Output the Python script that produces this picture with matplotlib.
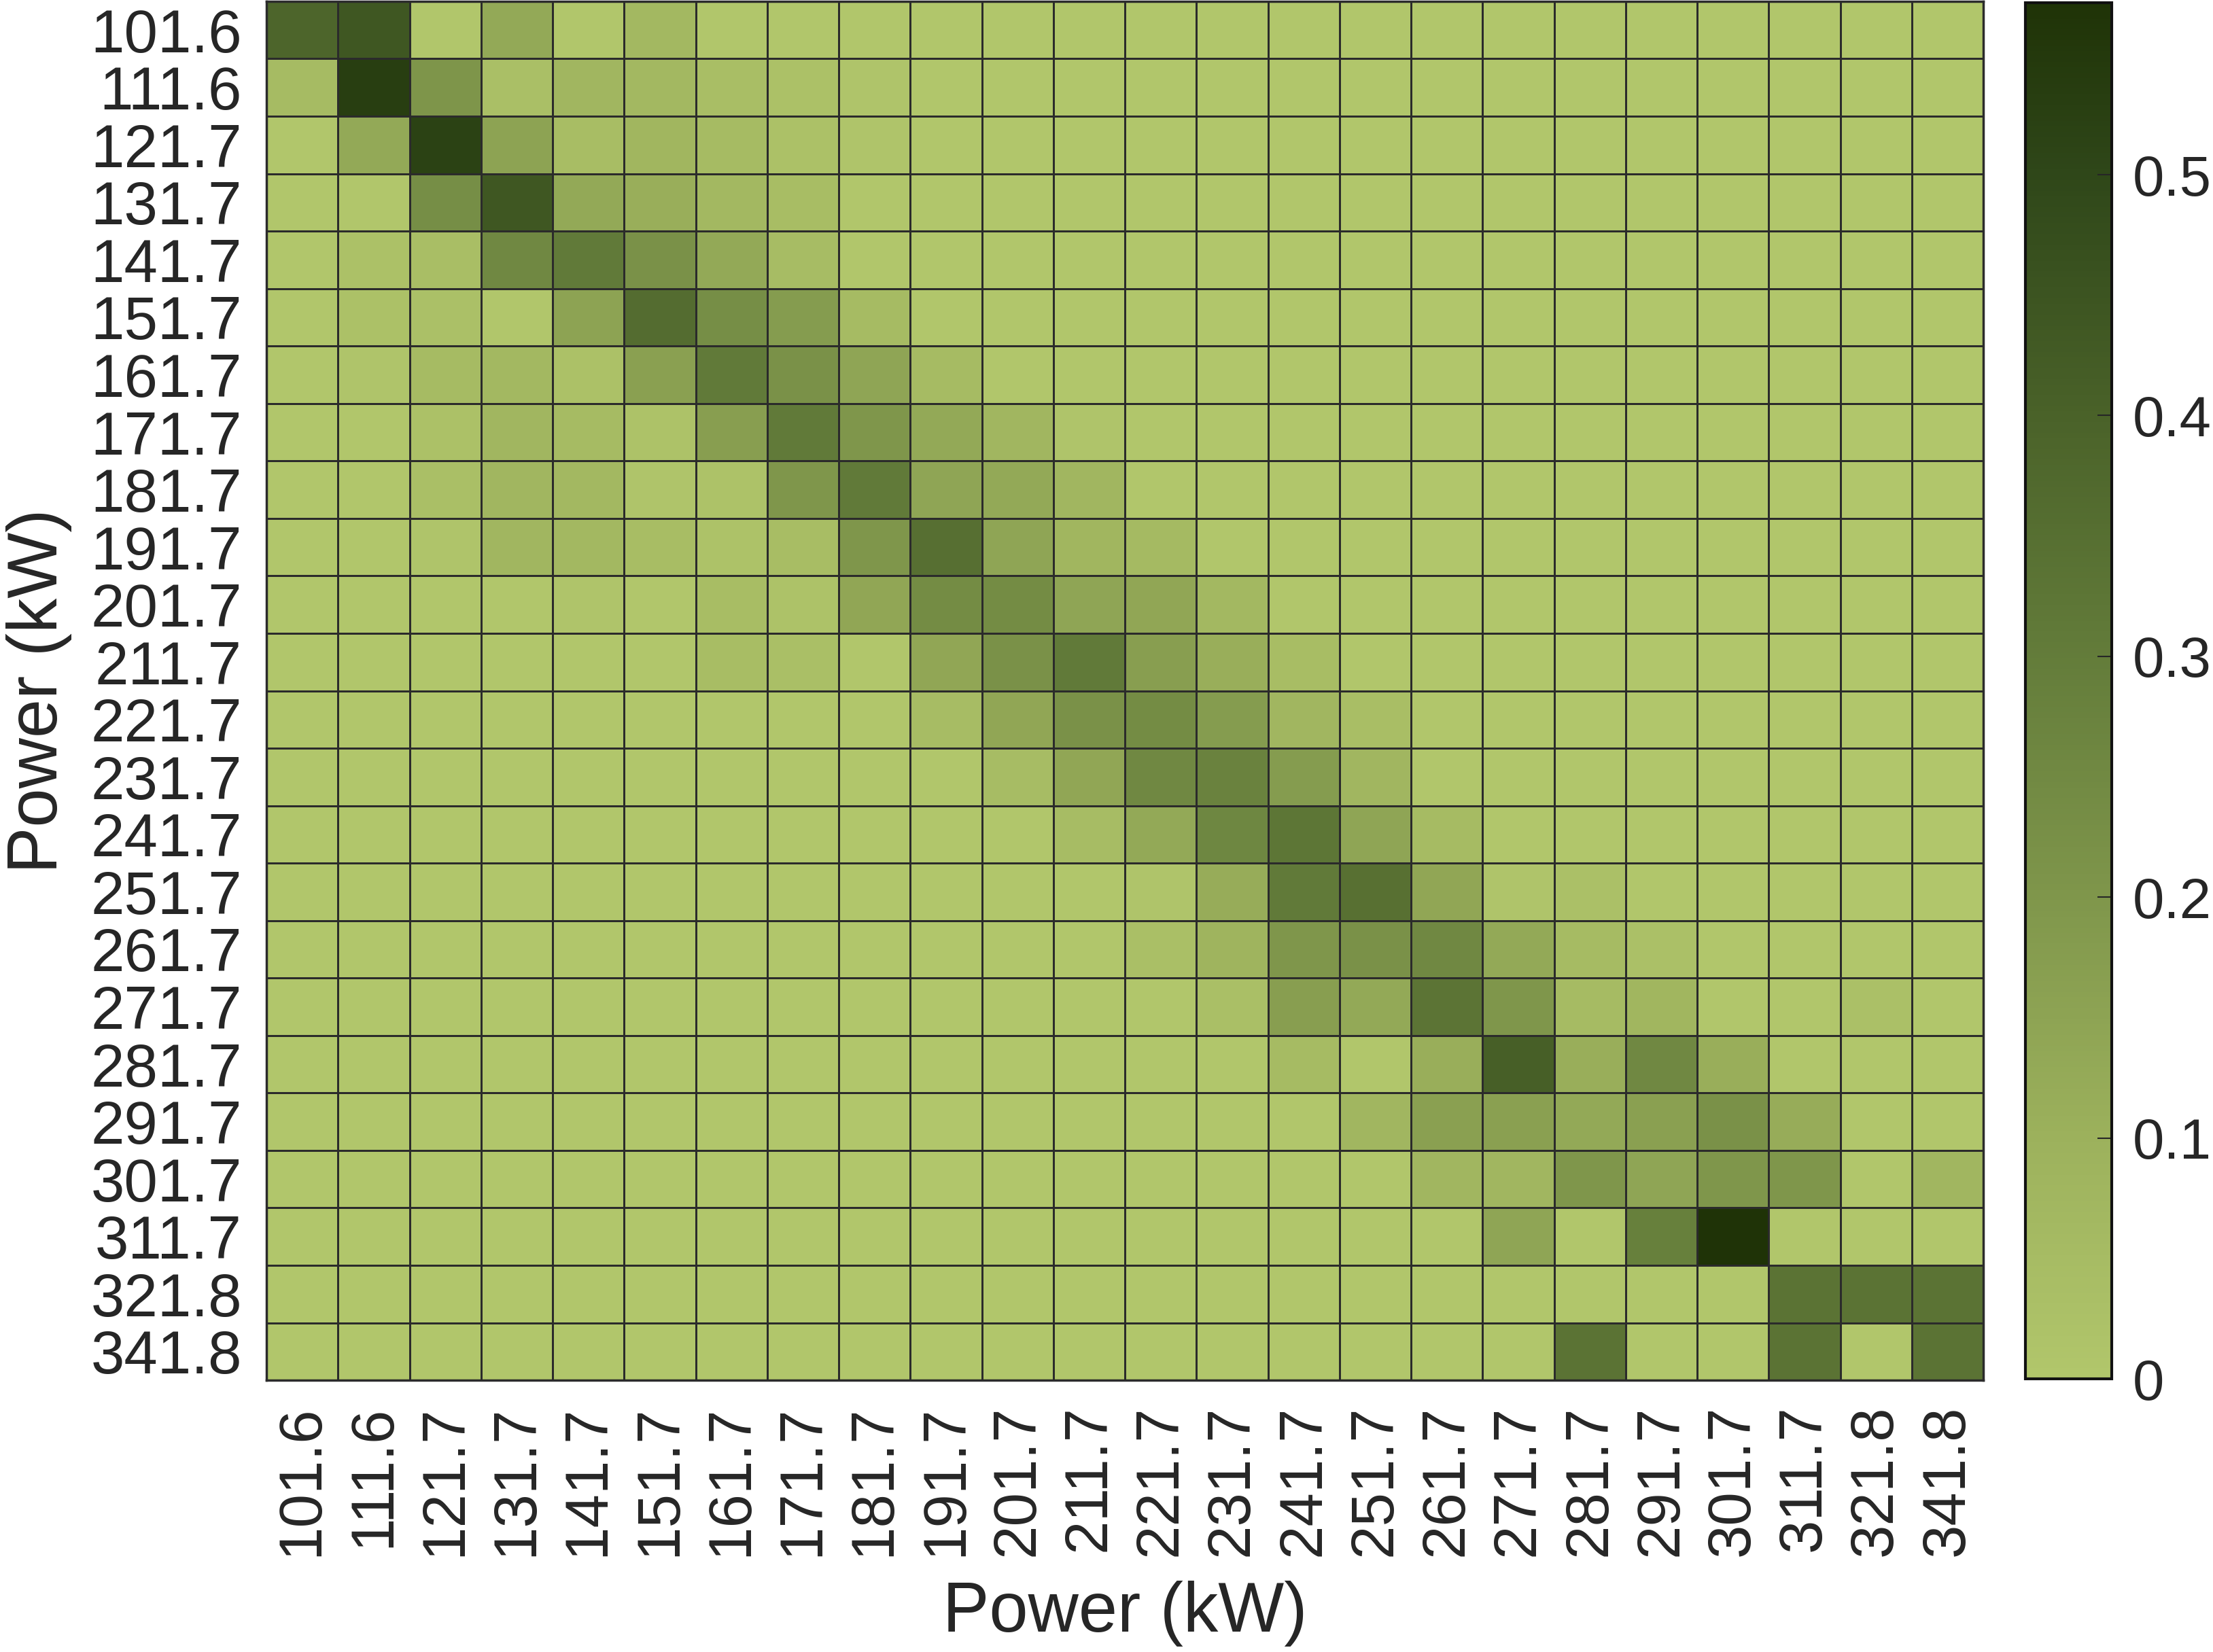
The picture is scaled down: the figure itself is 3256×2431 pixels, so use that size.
import numpy as np
import matplotlib
matplotlib.use("Agg")
import matplotlib.pyplot as plt
from matplotlib.colors import LinearSegmentedColormap

# ---------------- data: power-state transition matrix (rows = from, cols = to) ----------------
labels = ["101.6", "111.6", "121.7", "131.7", "141.7", "151.7", "161.7", "171.7",
          "181.7", "191.7", "201.7", "211.7", "221.7", "231.7", "241.7", "251.7",
          "261.7", "271.7", "281.7", "291.7", "301.7", "311.7", "321.8", "341.8"]

z = [0] * 24
row_101_6 = [0.39, 0.44, 0, 0.13, 0, 0.065] + z[:18]
row_111_6 = [0.055, 0.53, 0.205, 0.035, 0.075, 0.065, 0.04, 0.025, 0.01] + z[:15]
row_121_7 = [0, 0.13, 0.52, 0.15, 0.045, 0.08, 0.055, 0.025, 0.01] + z[:15]
row_131_7 = [0, 0, 0.23, 0.44, 0.13, 0.11, 0.065, 0.045] + z[:16]
row_141_7 = [0, 0.025, 0.04, 0.255, 0.31, 0.22, 0.13, 0.05] + z[:16]
row_151_7 = [0, 0.025, 0.03, 0, 0.15, 0.36, 0.23, 0.18, 0.055] + z[:15]
row_161_7 = [0, 0.01, 0.055, 0.065, 0.025, 0.165, 0.31, 0.22, 0.145, 0.055] + z[:14]
row_171_7 = [0, 0, 0.025, 0.075, 0.055, 0.02, 0.17, 0.31, 0.2, 0.13, 0.075, 0.01] + z[:12]
row_181_7 = [0, 0, 0.035, 0.075, 0.065, 0.01, 0.02, 0.2, 0.31, 0.145, 0.13, 0.075] + z[:12]
row_191_7 = [0, 0, 0.01, 0.075, 0.065, 0.045, 0.02, 0.045, 0.2, 0.35, 0.145, 0.08, 0.06] + z[:11]
row_201_7 = [0, 0, 0, 0, 0.01, 0, 0.045, 0.02, 0.14, 0.24, 0.24, 0.145, 0.14, 0.065] + z[:10]
row_211_7 = [0, 0, 0, 0, 0, 0, 0.045, 0.035, 0, 0.14, 0.22, 0.31, 0.17, 0.11, 0.045] + z[:9]
row_221_7 = z[:9] + [0.05, 0.14, 0.22, 0.24, 0.18, 0.075, 0.04] + z[:8]
row_231_7 = z[:10] + [0.05, 0.14, 0.255, 0.275, 0.18, 0.075] + z[:8]
row_241_7 = z[:11] + [0.05, 0.13, 0.26, 0.325, 0.145, 0.055] + z[:7]
row_251_7 = z[:12] + [0.01, 0.12, 0.31, 0.345, 0.14, 0.01, 0.03] + z[:5]
row_261_7 = z[:12] + [0.035, 0.085, 0.2, 0.22, 0.255, 0.13, 0.055, 0.03, 0, 0, 0, 0]
row_271_7 = z[:13] + [0.035, 0.17, 0.13, 0.33, 0.2, 0.055, 0.08, 0, 0, 0.03, 0]
row_281_7 = z[:14] + [0.055, 0, 0.11, 0.41, 0.11, 0.255, 0.11, 0, 0, 0]
row_291_7 = z[:15] + [0.075, 0.165, 0.165, 0.13, 0.165, 0.22, 0.12, 0, 0]
row_301_7 = z[:16] + [0.075, 0.075, 0.2, 0.145, 0.2, 0.2, 0, 0.075]
row_311_7 = z[:17] + [1/7, 0, 2/7, 4/7, 0, 0, 0]
row_321_8 = z[:21] + [1/3, 1/3, 1/3]
row_341_8 = z[:18] + [1/3, 0, 0, 1/3, 0, 1/3]

P = np.array([row_101_6, row_111_6, row_121_7, row_131_7, row_141_7, row_151_7,
              row_161_7, row_171_7, row_181_7, row_191_7, row_201_7, row_211_7,
              row_221_7, row_231_7, row_241_7, row_251_7, row_261_7, row_271_7,
              row_281_7, row_291_7, row_301_7, row_311_7, row_321_8, row_341_8])

# ---------------- style ----------------
TXT = "#262626"
plt.rcParams["font.family"] = ["Liberation Sans", "DejaVu Sans"]
cmap = LinearSegmentedColormap.from_list("greens_matlab", [
    (0.0, "#b1c66b"), (0.175, "#9cb15c"), (0.35, "#7f964b"), (0.526, "#637c3a"),
    (0.70, "#4a6229"), (0.876, "#2f4719"), (1.0, "#1f3307")])

fig = plt.figure(figsize=(32.56, 24.31), dpi=100)
ax = fig.add_axes([0.1204, 0.1645, 0.7758, 0.8347])
cax = fig.add_axes([0.9152, 0.1653, 0.039, 0.8331])

n = len(labels)
mesh = ax.pcolormesh(np.arange(n + 1), np.arange(n + 1), P, cmap=cmap,
                     vmin=0, vmax=4/7, edgecolors="#2b2b2b", linewidth=2.0)
ax.set_xlim(0, n); ax.set_ylim(n, 0)
ax.set_xticks(np.arange(n) + 0.5)
ax.set_yticks(np.arange(n) + 0.5)
ax.set_xticklabels(labels, rotation=90, fontsize=64, color=TXT)
ax.set_yticklabels(labels, fontsize=64, color=TXT)
ax.tick_params(length=0, pad=26)
for s in ax.spines.values():
    s.set_linewidth(2.5); s.set_color("#2b2b2b")
ax.set_xlabel("Power (kW)", fontsize=74, color=TXT, labelpad=26)
ax.set_ylabel("Power (kW)", fontsize=74, color=TXT, labelpad=20)

cb = fig.colorbar(mesh, cax=cax)
cb.set_ticks([0, 0.1, 0.2, 0.3, 0.4, 0.5])
cb.set_ticklabels(["0", "0.1", "0.2", "0.3", "0.4", "0.5"])
cb.ax.tick_params(direction="in", length=15, width=1.5, color=TXT,
                  labelsize=60, labelcolor=TXT, pad=22)
cb.outline.set_linewidth(3); cb.outline.set_edgecolor("#111111")

fig.savefig("out.png", dpi=100)
